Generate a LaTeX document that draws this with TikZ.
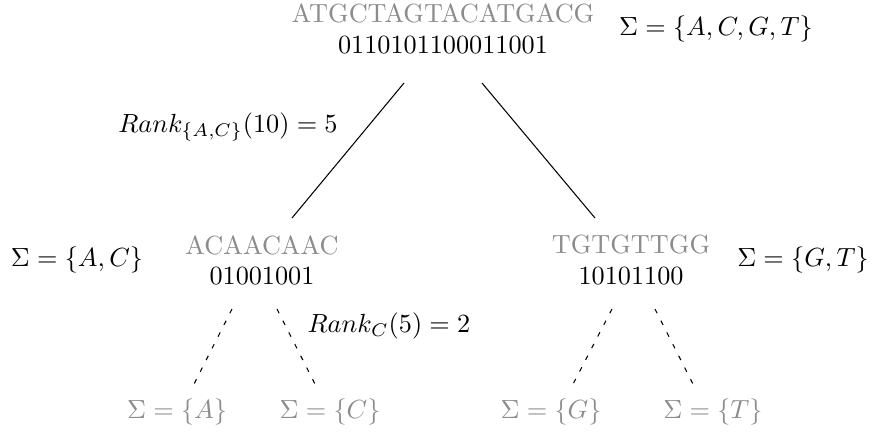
\documentclass[tikz,border=0pt]{standalone}
\usetikzlibrary{positioning}
\begin{document}
\begin{tikzpicture}[x=0.38095pt,y=-0.38095pt,
  seq/.style={inner sep=0pt,text=black!45},
  bits/.style={inner sep=0pt,text=black},
  lab/.style={inner sep=0pt,text=black},
  leaf/.style={inner sep=0pt,text=black!45},
  edge/.style={draw=black,line width=0.4pt},
  dedge/.style={draw=black,line width=0.4pt,dash pattern=on 1.8pt off 3.2pt}]
\useasboundingbox (0,0) rectangle (875,432);
% root
\node[seq] (rs) at (443,13) {ATGCTAGTACATGACG};
\node[bits] (rb) at (443,45) {0110101100011001};
\node[lab] (rsig) at (716,29) {$\Sigma=\{A,C,G,T\}$};
% left child
\node[seq] (ls) at (262,245) {ACAACAAC};
\node[bits] (lb) at (262,276) {01001001};
\node[lab] (lsig) at (77,260) {$\Sigma=\{A,C\}$};
% right child
\node[seq] (gs) at (631,245) {TGTGTTGG};
\node[bits] (gb) at (631,276) {10101100};
\node[lab] (gsig) at (803,260) {$\Sigma=\{G,T\}$};
% rank labels
\node[lab] (rk1) at (228,127) {$Rank_{\{A,C\}}(10)=5$};
\node[lab] (rk2) at (389,326) {$Rank_C(5)=2$};
% leaves
\node[leaf] (la) at (177,412) {$\Sigma=\{A\}$};
\node[leaf] (lc) at (330,412) {$\Sigma=\{C\}$};
\node[leaf] (lg) at (551,412) {$\Sigma=\{G\}$};
\node[leaf] (lt) at (713,412) {$\Sigma=\{T\}$};
% connector endpoints
\coordinate (r1) at (404,83);
\coordinate (r2) at (482,83);
\coordinate (l1) at (292,218);
\coordinate (g1) at (595,218);
\coordinate (la1) at (232,309);
\coordinate (la2) at (192,388);
\coordinate (lc1) at (277,309);
\coordinate (lc2) at (317,388);
\coordinate (lg1) at (612,309);
\coordinate (lg2) at (571,388);
\coordinate (lt1) at (655,309);
\coordinate (lt2) at (695,388);
\draw[edge] (r1) -- (l1);
\draw[edge] (r2) -- (g1);
\draw[dedge] (la1) -- (la2);
\draw[dedge] (lc1) -- (lc2);
\draw[dedge] (lg1) -- (lg2);
\draw[dedge] (lt1) -- (lt2);
\end{tikzpicture}
\end{document}
